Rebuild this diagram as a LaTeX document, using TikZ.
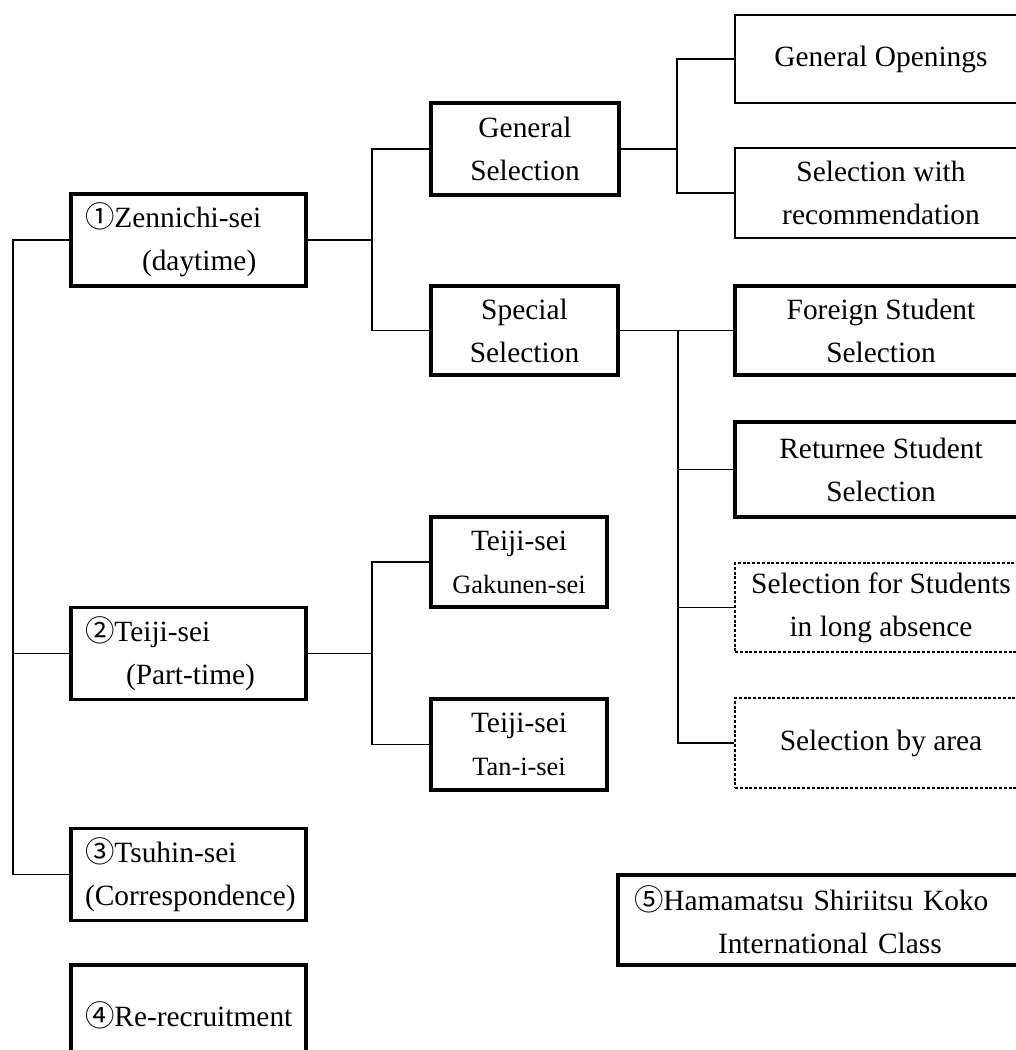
\documentclass[tikz,border=0pt]{standalone}
\usepackage{fontspec}
\setmainfont{Liberation Serif}
\newfontfamily\cjk{Noto Sans CJK JP}
\newcommand{\cnum}[1]{{\cjk #1}}
\usetikzlibrary{positioning}

\tikzset{
  box/.style={draw, line width=1.6pt, inner sep=0pt, align=center,
    font=\fontsize{14.7pt}{21.5pt}\selectfont},
  thinbox/.style={box, line width=0.9pt},
  dashbox/.style={box, line width=0.9pt, dash pattern=on 1.5pt off 0.9pt},
  leftbox/.style={box, minimum width=117.5pt, minimum height=46pt,
    text width=103.5pt, inner xsep=7pt, align=left},
  midbox/.style={box, minimum width=94pt, minimum height=45pt},
  rightbox/.style={minimum width=146pt, minimum height=44.5pt},
  link/.style={line width=0.9pt},
}

\begin{document}
\begin{tikzpicture}[x=0.5pt,y=-0.5pt]
\useasboundingbox (0,0) rectangle (1016,1050);
\clip (0,0) rectangle (1016,1050);

% Course types (left column)
\node[leftbox] (zen) at (188.5,240) {\cnum{①}Zennichi-sei\\\hspace*{28.5pt}(daytime)};
\node[leftbox] (tei) at (188.5,653.5) {\cnum{②}Teiji-sei\\\hspace*{20.5pt}(Part-time)};
\node[leftbox] (tsu) at (188.5,874.5) {\cnum{③}Tsuhin-sei\\(Correspondence)};
\node[leftbox, minimum height=50pt] (rer) at (188.5,1015) {\mbox{\cnum{④}Re-recruitment}};

% Selection types (middle column)
\node[midbox, minimum height=46pt] (gen) at (525,149) {General\\Selection};
\node[midbox, minimum width=93.5pt, minimum height=44.5pt] (spe) at (524.5,330.5) {Special\\Selection};
\node[midbox, minimum width=88pt] (gak) at (519,562) {Teiji-sei\\{\fontsize{13.2pt}{20pt}\selectfont Gakunen-sei}};
\node[midbox, minimum width=88pt, minimum height=45.5pt] (tan) at (519,744.5) {Teiji-sei\\{\fontsize{13.2pt}{20pt}\selectfont Tan-i-sei}};

% Sub-selections (right column)
\node[thinbox, rightbox, minimum height=44pt] (ope) at (881,59) {General Openings};
\node[thinbox, rightbox, minimum height=45pt] (rec) at (881,193) {Selection with\\recommendation};
\node[box, rightbox] (for) at (881,330.5) {Foreign Student\\Selection};
\node[box, rightbox, minimum height=47.5pt] (ret) at (881,469.5) {Returnee Student\\Selection};
\node[dashbox, rightbox] (abs) at (881,607.5) {Selection for Students\\in long absence};
\node[dashbox, rightbox, minimum height=45pt] (are) at (881,743) {Selection by area};

% International class
\node[box, minimum width=208pt, minimum height=45pt, text width=192pt,
  inner xsep=8pt, align=left] (ham) at (826,920)
  {\cnum{⑤}Hamamatsu Shiriitsu Koko\\\hspace*{42pt}International Class};

% Connectors
\coordinate (trunk) at (13,653.5);
\draw[link] (zen.west) -| (trunk) |- (tsu.west);
\draw[link] (tei.west) -- (trunk);

\coordinate (zj) at (372,240);
\draw[link] (zen.east) -- (zj);
\draw[link] (gen.west) -| (zj) |- (spe.west);

\coordinate (gj) at (677,149);
\draw[link] (gen.east) -- (gj);
\draw[link] (ope.west) -| (gj) |- (rec.west);

\coordinate (sj) at (678,330.5);
\draw[link] (spe.east) -- (for.west);
\draw[link] (sj) |- (are.west);
\draw[link] (ret.west) -- (ret.west -| sj);
\draw[link] (abs.west) -- (abs.west -| sj);

\coordinate (tj) at (372,653.5);
\draw[link] (tei.east) -- (tj);
\draw[link] (gak.west) -| (tj) |- (tan.west);
\end{tikzpicture}
\end{document}
